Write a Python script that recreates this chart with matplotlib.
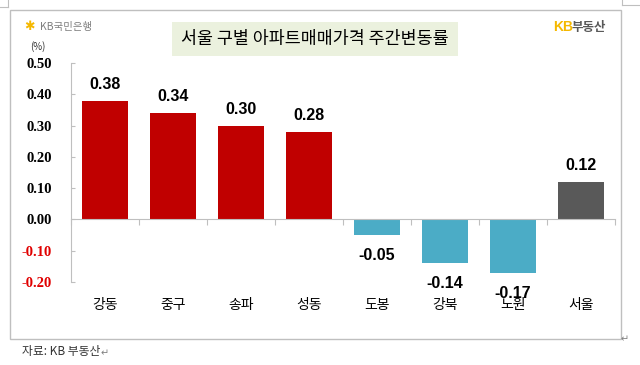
import matplotlib.pyplot as plt
from matplotlib.patches import Rectangle
from matplotlib.lines import Line2D

plt.rcParams['font.family'] = ['Noto Sans CJK KR', 'DejaVu Sans']

# data
districts = ['강동', '중구', '송파', '성동', '도봉', '강북', '노원', '서울']
changes = [0.38, 0.34, 0.30, 0.28, -0.05, -0.14, -0.17, 0.12]
colors = ['#C00000', '#C00000', '#C00000', '#C00000',
          '#4BACC6', '#4BACC6', '#4BACC6', '#595959']
yticks = [0.5, 0.4, 0.3, 0.2, 0.1, 0.0, -0.1, -0.2]

W, H = 640, 365
fig = plt.figure(figsize=(6.4, 3.65), dpi=100)

def fx(px):
    return px / W

def fy(py):
    return 1 - py / H

# outer frame
fig.patches.append(Rectangle((fx(10), fy(339)), fx(611), (329) / H,
                             transform=fig.transFigure, fill=False,
                             edgecolor='#BFBFBF', linewidth=1.0))
# small corner marks (document artefacts)
fig.lines.append(Line2D([fx(8), fx(8)], [fy(0), fy(7)], transform=fig.transFigure,
                        color='#BFBFBF', lw=0.8))
fig.lines.append(Line2D([fx(0), fx(8)], [fy(7), fy(7)], transform=fig.transFigure,
                        color='#BFBFBF', lw=0.8))
fig.lines.append(Line2D([fx(622), fx(622)], [fy(0), fy(5)], transform=fig.transFigure,
                        color='#BFBFBF', lw=0.8))
fig.lines.append(Line2D([fx(622), fx(640)], [fy(5), fy(5)], transform=fig.transFigure,
                        color='#BFBFBF', lw=0.8))

# title box
fig.patches.append(Rectangle((fx(172), fy(56)), fx(286), 34 / H,
                             transform=fig.transFigure, facecolor='#EBF1DE',
                             edgecolor='none'))
fig.text(fx(315), fy(39), '서울 구별 아파트매매가격 주간변동률', ha='center', va='center',
         fontsize=12.5)

# plot area
ax = fig.add_axes([fx(71), fy(282), fx(615 - 71), 219 / H])
x = range(len(districts))
ax.bar(x, changes, width=0.69, color=colors, zorder=2)
ax.set_xlim(-0.5, len(districts) - 0.5)
ax.set_ylim(-0.2, 0.5)

for s in ['top', 'right']:
    ax.spines[s].set_visible(False)
ax.spines['left'].set_color('#BFBFBF')
ax.spines['left'].set_linewidth(0.8)
ax.spines['bottom'].set_position(('data', 0))
ax.spines['bottom'].set_color('#BFBFBF')
ax.spines['bottom'].set_linewidth(0.8)

ax.set_xticks([i - 0.5 for i in range(len(districts) + 1)])
ax.set_xticklabels([])
ax.tick_params(axis='x', direction='out', length=4, color='#BFBFBF', width=0.8)

ax.set_yticks(yticks)
ax.set_yticklabels(['%.2f' % v for v in yticks], family='Liberation Serif',
                   fontsize=10.5, fontweight='bold')
ax.tick_params(axis='y', direction='in', length=3, color='#BFBFBF', width=0.8, pad=14)
for lbl, v in zip(ax.get_yticklabels(), yticks):
    lbl.set_color('#E00000' if v < 0 else 'black')

for i, v in enumerate(changes):
    if v >= 0:
        ax.text(i, v + 0.052, '%.2f' % v, ha='center', va='center',
                family='Liberation Sans', fontsize=11.5, fontweight='bold')
    else:
        ax.text(i, v - 0.066, '%.2f' % v, ha='center', va='center',
                family='Liberation Sans', fontsize=11.5, fontweight='bold')
    ax.text(i, -0.275, districts[i], ha='center', va='center', fontsize=10,
            clip_on=False)

# logos
fig.text(fx(24), fy(27), '✱', ha='left', va='center', color='#F5B800', fontsize=9,
         family='DejaVu Sans')
fig.text(fx(40), fy(27), 'KB국민은행', ha='left', va='center', color='#7F7F7F',
         fontsize=7.5)
fig.text(fx(553), fy(27), 'KB', ha='left', va='center', color='#F5B800',
         fontsize=10, fontweight='bold', family='Liberation Sans')
fig.text(fx(572), fy(27), '부동산', ha='left', va='center', color='#595959',
         fontsize=9, fontweight='bold')

fig.text(fx(38), fy(47), '(%)', ha='center', va='center', fontsize=7,
         color='#333333')

# footer
fig.text(fx(22), fy(352), '자료: KB 부동산', ha='left', va='center', fontsize=8.5,
         color='#333333')
fig.text(fx(101), fy(353), '↵', ha='left', va='center', fontsize=7,
         color='#808080', family='DejaVu Sans')
fig.text(fx(621), fy(339), '↵', ha='left', va='center', fontsize=7,
         color='#808080', family='DejaVu Sans')

fig.savefig('out.png', dpi=100)
